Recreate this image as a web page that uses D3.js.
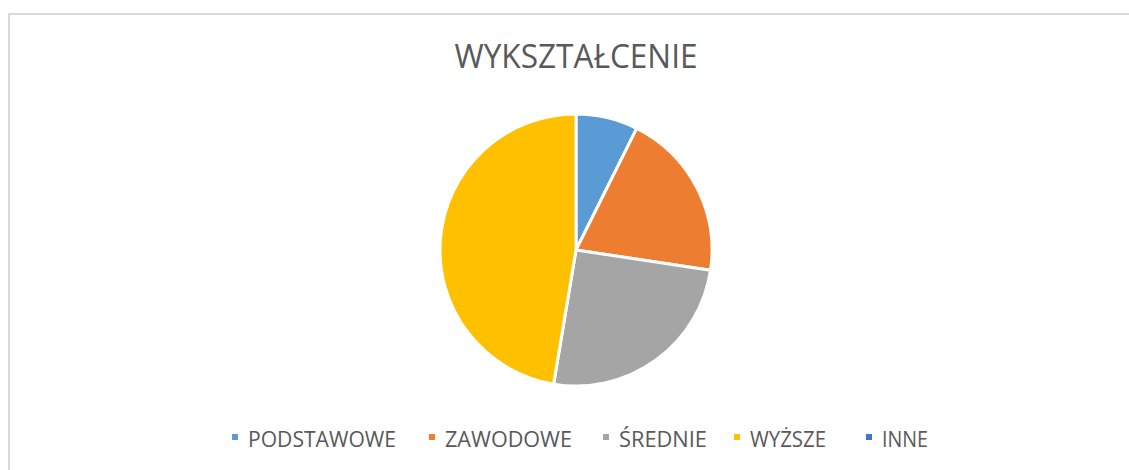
<!DOCTYPE html>
<html>
<head>
<meta charset="utf-8">
<script src="https://cdn.jsdelivr.net/npm/d3@7"></script>
<style>
  body { margin: 0; background: #fff; }
  text { font-family: "Open Sans", "Noto Sans", sans-serif; fill: #595959; }
</style>
</head>
<body>
<script>
/* Data */
var categories = ["PODSTAWOWE", "ZAWODOWE", "ŚREDNIE", "WYŻSZE", "INNE"];
var values = [7, 19, 24, 45, 0];
var title = "WYKSZTAŁCENIE";

/* Office palette */
var colors = ["#5B9BD5", "#ED7D31", "#A5A5A5", "#FFC000", "#4472C4"];

var width = 1129, height = 470;

var svg = d3.select("body").append("svg")
    .attr("width", width)
    .attr("height", height);

/* Chart area frame (continues past the right and bottom edge) */
svg.append("rect")
    .attr("x", 9)
    .attr("y", 14)
    .attr("width", 1200)
    .attr("height", 500)
    .attr("fill", "none")
    .attr("stroke", "#d9d9d9")
    .attr("stroke-width", 2);

/* Title */
svg.append("text")
    .attr("x", 576)
    .attr("y", 68)
    .attr("text-anchor", "middle")
    .attr("font-size", 32)
    .attr("textLength", 243)
    .attr("lengthAdjust", "spacingAndGlyphs")
    .text(title);

/* Pie */
var data = categories.map(function(c, i) { return {name: c, value: values[i]}; });
var color = d3.scaleOrdinal().domain(categories).range(colors);

var pie = d3.pie()
    .sort(null)
    .value(function(d) { return d.value; });

var arc = d3.arc()
    .innerRadius(0)
    .outerRadius(136);

var g = svg.append("g")
    .attr("transform", "translate(576,250)");

g.selectAll("path")
    .data(pie(data).filter(function(d) { return d.value > 0; }))
    .enter().append("path")
    .attr("d", arc)
    .attr("fill", function(d) { return color(d.data.name); })
    .attr("stroke", "#fff")
    .attr("stroke-width", 3)
    .attr("stroke-linejoin", "round");

/* Legend - marker positions and label widths as measured on the reference */
var legendX = [232, 429, 603, 734, 866];
var labelWidths = [148, 127, 88, 76, 46];
var legend = svg.append("g");
categories.forEach(function(c, i) {
    legend.append("rect")
        .attr("x", legendX[i])
        .attr("y", 434)
        .attr("width", 6)
        .attr("height", 6)
        .attr("fill", color(c));
    legend.append("text")
        .attr("x", legendX[i] + 16)
        .attr("y", 447)
        .attr("font-size", 21)
        .attr("textLength", labelWidths[i])
        .attr("lengthAdjust", "spacingAndGlyphs")
        .text(c);
});
</script>
</body>
</html>
